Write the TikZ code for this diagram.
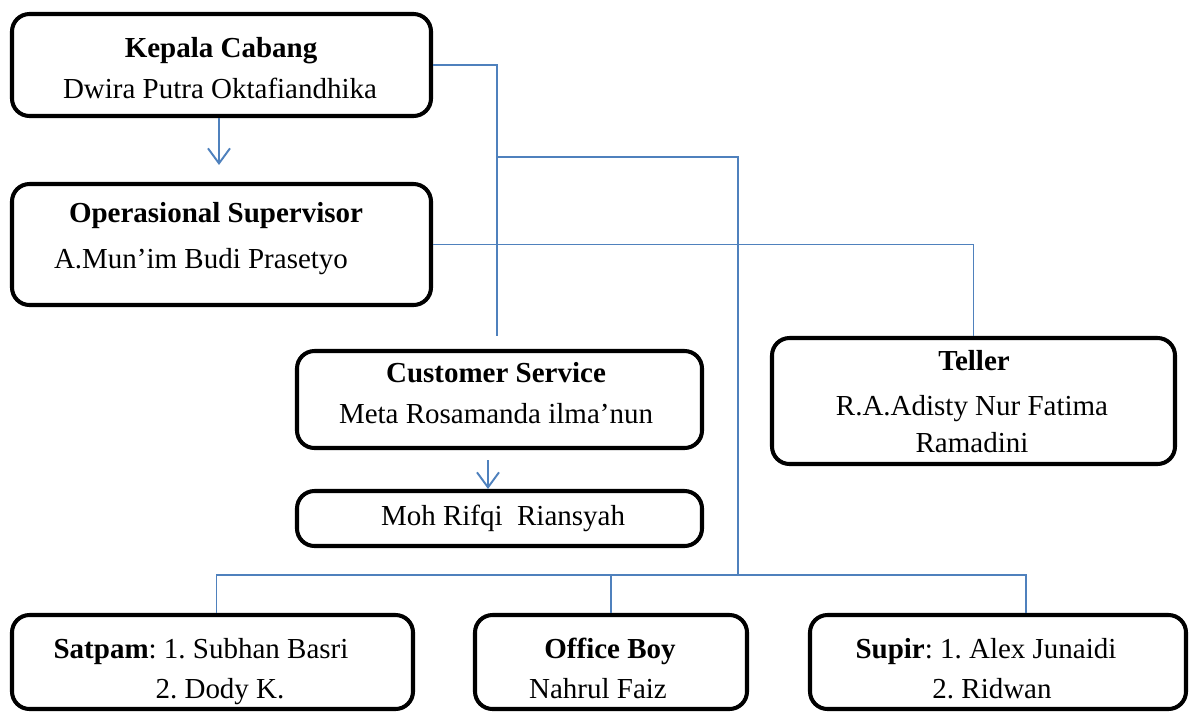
\documentclass[tikz,border=0pt]{standalone}
\usepackage{fontspec}
\setmainfont{Liberation Serif}
\usetikzlibrary{arrows.meta,calc,fit,positioning}
\definecolor{linkblue}{HTML}{4F81BD}
\frenchspacing

\begin{document}
\begin{tikzpicture}[x=0.02cm,y=-0.02cm,font=\fontsize{16.5}{20}\selectfont,
  box/.style={draw,line width=2.3pt,rounded corners=0.35cm,inner sep=0pt},
  txt/.style={anchor=base,inner sep=0pt},
  link/.style={linkblue,line width=1.1pt},
  arr/.style={link,-{Straight Barb[length=0.3cm,width=0.44cm]}}]
  \useasboundingbox (0,0) rectangle (1190,711);
  % boxes
  \node[box,fit={(12,14) (431,116)}] (kc) {};
  \node[box,fit={(12,184) (431,305)}] (os) {};
  \node[box,fit={(297,351) (702,448)}] (cs) {};
  \node[box,fit={(297,491) (702,546)}] (mr) {};
  \node[box,fit={(772,338) (1175,464)}] (tl) {};
  \node[box,fit={(12,615) (413,709)}] (sp) {};
  \node[box,fit={(475,615) (747,709)}] (ob) {};
  \node[box,fit={(810,615) (1186,709)}] (su) {};
  % texts
  \node[txt] (kc1) at (221,57) {\textbf{Kepala Cabang}};
  \node[txt] (kc2) at (220,98) {Dwira Putra Oktafiandhika};
  \node[txt] (os1) at (216,222) {\textbf{Operasional Supervisor}};
  \node[txt] (os2) at (201,268) {A.Mun’im Budi Prasetyo};
  \node[txt] (cs1) at (496,382) {\textbf{Customer Service}};
  \node[txt] (cs2) at (496,423) {Meta Rosamanda ilma’nun};
  \node[txt] (mr1) at (503,525) {Moh Rifqi\ \ Riansyah};
  \node[txt] (tl1) at (974,370) {\textbf{Teller}};
  \node[txt] (tl2) at (972,415) {R.A.Adisty Nur Fatima};
  \node[txt] (tl3) at (972,452) {Ramadini};
  \node[txt] (sp1) at (201,658) {\textbf{Satpam}: 1. Subhan Basri};
  \node[txt] (sp2) at (220,698) {2. Dody K.};
  \node[txt] (ob1) at (610,658) {\textbf{Office Boy}};
  \node[txt] (ob2) at (598,698) {Nahrul Faiz};
  \node[txt] (su1) at (986,658) {\textbf{Supir}: 1. Alex Junaidi};
  \node[txt] (su2) at (992,698) {2. Ridwan};
  % connectors
  \coordinate (csin) at (497,336);
  \coordinate (j1) at (497,157);
  \coordinate (bus) at (738,575);
  \draw[link] (kc.east) -| (csin);
  \draw[link] (j1) -| (bus);
  \draw[link] (os.east) -| (tl.north);
  \draw[link] ($(sp.north)+(4,0)$) |- (bus) -| ($(su.north)+(28,0)$);
  \draw[link] (ob.north) -- (ob.north |- bus);
  \draw[arr] (kc.south -| 219,0) -- ($(os.north -| 219,0)+(0,-17)$);
  \draw[arr] ($(cs.south -| 488,0)+(0,10)$) -- (mr.north -| 488,0);
\end{tikzpicture}
\end{document}
